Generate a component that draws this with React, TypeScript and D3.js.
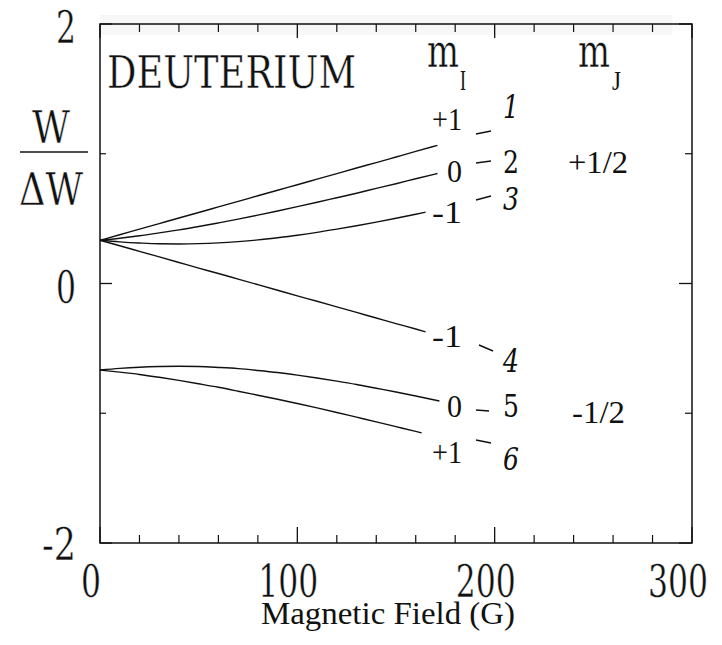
import React from "react";
import * as d3 from "d3";

// Magnetic field samples (G) and reduced energies W/ΔW for the six hyperfine levels
const fieldUpper = [0, 10, 20, 30, 40, 50, 60, 70, 80, 90, 100, 110, 120, 130, 140, 150, 160, 171];
const level1 = [0.333, 0.376, 0.419, 0.462, 0.505, 0.547, 0.59, 0.633, 0.676, 0.719, 0.761, 0.804, 0.847, 0.89, 0.932, 0.975, 1.018, 1.065];
const level2 = [0.333, 0.349, 0.368, 0.39, 0.413, 0.439, 0.467, 0.496, 0.527, 0.559, 0.592, 0.626, 0.661, 0.696, 0.733, 0.769, 0.807, 0.848];

const field3 = [0, 10, 20, 30, 40, 50, 60, 70, 80, 90, 100, 110, 120, 130, 140, 150, 160, 165];
const level3 = [0.333, 0.321, 0.312, 0.306, 0.305, 0.307, 0.313, 0.323, 0.336, 0.353, 0.372, 0.394, 0.419, 0.445, 0.473, 0.503, 0.534, 0.55];
const level4 = [0.333, 0.291, 0.248, 0.205, 0.162, 0.119, 0.077, 0.034, -0.009, -0.052, -0.095, -0.137, -0.18, -0.223, -0.266, -0.309, -0.351, -0.373];

const field5 = [0, 10, 20, 30, 40, 50, 60, 70, 80, 90, 100, 110, 120, 130, 140, 150, 160, 172];
const level5 = [-0.667, -0.654, -0.645, -0.64, -0.638, -0.64, -0.647, -0.656, -0.67, -0.686, -0.706, -0.728, -0.752, -0.778, -0.807, -0.836, -0.867, -0.906];

const field6 = [0, 10, 20, 30, 40, 50, 60, 70, 80, 90, 100, 110, 120, 130, 140, 150, 160, 163];
const level6 = [-0.667, -0.683, -0.701, -0.723, -0.747, -0.773, -0.8, -0.83, -0.861, -0.892, -0.925, -0.959, -0.994, -1.03, -1.066, -1.103, -1.14, -1.151];

const xTicks = [0, 100, 200, 300];
const xMinorTicks = [20, 40, 60, 80, 120, 140, 160, 180, 220, 240, 260, 280];
const yTicks = [2, 0, -2];
const yMinorTicks = [1, -1];

const mILabels = ["+1", "0", "-1", "-1", "0", "+1"];
const levelNumbers = ["1", "2", "3", "4", "5", "6"];
const numberItalic = [true, false, true, true, false, true];
const mJLabels = ["+1/2", "-1/2"];

const series = [
  { x: fieldUpper, y: level1 },
  { x: fieldUpper, y: level2 },
  { x: field3, y: level3 },
  { x: field3, y: level4 },
  { x: field5, y: level5 },
  { x: field6, y: level6 },
];

const W = 722;
const H = 645;
const SMALL = "Liberation Serif";
const LARGE = "DejaVu Serif";

// Baselines of the per-level annotation rows, and the connector dash for each
const labelRows = [
  { base: 130, numBase: 118, dash: [476, 134, 491, 131] },
  { base: 182, numBase: 173, dash: [476, 163, 491, 161] },
  { base: 223, numBase: 210, dash: [476, 200, 491, 196] },
  { base: 347, numBase: 372, dash: [479, 345, 493, 351] },
  { base: 417, numBase: 417, dash: [476, 410, 489, 411] },
  { base: 463, numBase: 470, dash: [476, 440, 491, 443] },
];

// Serif text squeezed horizontally to a given advance width
function CText(props: {
  x: number;
  y: number;
  size: number;
  width?: number;
  family?: string;
  thin?: number;
  anchor?: "start" | "middle" | "end";
  italic?: boolean;
  children: React.ReactNode;
}) {
  const { x, y, size, width, anchor = "start", italic, family = SMALL, thin } = props;
  return (
    <text
      x={x}
      y={y}
      fontFamily={family}
      fontSize={size}
      fontStyle={italic ? "italic" : "normal"}
      textAnchor={anchor}
      textLength={width}
      lengthAdjust={width ? "spacingAndGlyphs" : undefined}
      fill="#111"
      stroke={thin ? "#fff" : undefined}
      strokeWidth={thin}
    >
      {props.children}
    </text>
  );
}

export default function App() {
  const x = d3.scaleLinear().domain([0, 300]).range([100, 692]);
  const y = d3.scaleLinear().domain([-2, 2]).range([543, 24]);

  const line = d3
    .line<[number, number]>()
    .x((d) => x(d[0]))
    .y((d) => y(d[1]))
    .curve(d3.curveMonotoneX);

  const [x0, x1] = x.range();
  const [yb, yt] = y.range();
  const digitW = 20;

  return (
    <svg
      width={W}
      height={H}
      viewBox={`0 0 ${W} ${H}`}
      style={{ position: "absolute", left: 0, top: 0, background: "#fff" }}
    >
      <rect width={W} height={H} fill="#fff" />
      {/* faint band along the top edge */}
      <rect x={x0} y={yt - 9} width={x(290) - x0} height={20} fill="#d8d8d8" opacity={0.2} />

      {/* frame */}
      <rect x={x0} y={yt} width={x1 - x0} height={yb - yt} fill="none" stroke="#111" strokeWidth={1.5} />

      {/* x ticks, bottom and top, pointing inward */}
      {xTicks.map((t) => (
        <g key={`xt${t}`} stroke="#111" strokeWidth={1.3}>
          <line x1={x(t)} x2={x(t)} y1={yb} y2={yb - 16} />
          <line x1={x(t)} x2={x(t)} y1={yt} y2={yt + 14} />
        </g>
      ))}
      {xMinorTicks.map((t) => (
        <g key={`xm${t}`} stroke="#111" strokeWidth={1.2}>
          <line x1={x(t)} x2={x(t)} y1={yb} y2={yb - 8} />
          <line x1={x(t)} x2={x(t)} y1={yt} y2={yt + 8} />
        </g>
      ))}
      {/* y ticks, left and right */}
      {yTicks.map((t) => (
        <g key={`yt${t}`} stroke="#111" strokeWidth={1.3}>
          <line x1={x0} x2={x0 + 12} y1={y(t)} y2={y(t)} />
          <line x1={x1} x2={x1 - 13} y1={y(t)} y2={y(t)} />
        </g>
      ))}
      {yMinorTicks.map((t) => (
        <g key={`ym${t}`} stroke="#111" strokeWidth={1.2}>
          <line x1={x0} x2={x0 + 6} y1={y(t)} y2={y(t)} />
          <line x1={x1} x2={x1 - 7} y1={y(t)} y2={y(t)} />
        </g>
      ))}

      {/* tick labels */}
      {yTicks.map((t) => (
        <CText
          key={`yl${t}`}
          x={76}
          y={y(t) + (t === -2 ? 17 : 19)}
          size={45}
          family={LARGE}
          thin={0.4}
          width={String(t).length * digitW - (t < 0 ? 6 : 0)}
          anchor="end"
        >
          {t}
        </CText>
      ))}
      {xTicks.map((t) => (
        <CText
          key={`xl${t}`}
          x={Math.min(x(t) - 9, 678)}
          y={597}
          size={45}
          family={LARGE}
          thin={0.4}
          width={String(t).length * digitW}
          anchor="middle"
        >
          {t}
        </CText>
      ))}

      {/* axis titles */}
      <CText x={388} y={624} size={31} width={254} anchor="middle">
        Magnetic Field (G)
      </CText>
      <CText x={51} y={143} size={45} width={38} family={LARGE} thin={0.4} anchor="middle">
        W
      </CText>
      <line x1={20} x2={88} y1={152} y2={152} stroke="#111" strokeWidth={1.3} />
      <CText x={51} y={205} size={45} width={64} family={LARGE} thin={0.4} anchor="middle">
        ΔW
      </CText>

      <CText x={107} y={88} size={45} width={249} family={LARGE} thin={0.4}>
        DEUTERIUM
      </CText>

      {/* column headers */}
      <CText x={427} y={67} size={46} width={32} family={LARGE} thin={0.4}>
        m
      </CText>
      <CText x={460} y={90} size={30} width={6}>
        I
      </CText>
      <CText x={578} y={67} size={46} width={32} family={LARGE} thin={0.4}>
        m
      </CText>
      <CText x={612} y={90} size={28} width={9}>
        J
      </CText>

      {/* energy levels */}
      {series.map((s, i) => (
        <path
          key={`lv${i}`}
          d={line(s.x.map((v, j) => [v, s.y[j]] as [number, number])) || ""}
          fill="none"
          stroke="#111"
          strokeWidth={1.4}
        />
      ))}

      {/* per-level annotations */}
      {labelRows.map((r, i) => (
        <g key={`ann${i}`}>
          <CText x={462} y={r.base} size={31} width={mILabels[i].length === 1 ? 15 : 30} anchor="end">
            {mILabels[i]}
          </CText>
          <line
            x1={r.dash[0]}
            y1={r.dash[1]}
            x2={r.dash[2]}
            y2={r.dash[3]}
            stroke="#111"
            strokeWidth={1.4}
          />
          <CText x={503} y={r.numBase} size={31} width={16} family={LARGE} italic={numberItalic[i]}>
            {levelNumbers[i]}
          </CText>
        </g>
      ))}
      <CText x={568} y={173} size={31} width={60}>
        {mJLabels[0]}
      </CText>
      <CText x={572} y={423} size={31} width={53}>
        {mJLabels[1]}
      </CText>
    </svg>
  );
}
